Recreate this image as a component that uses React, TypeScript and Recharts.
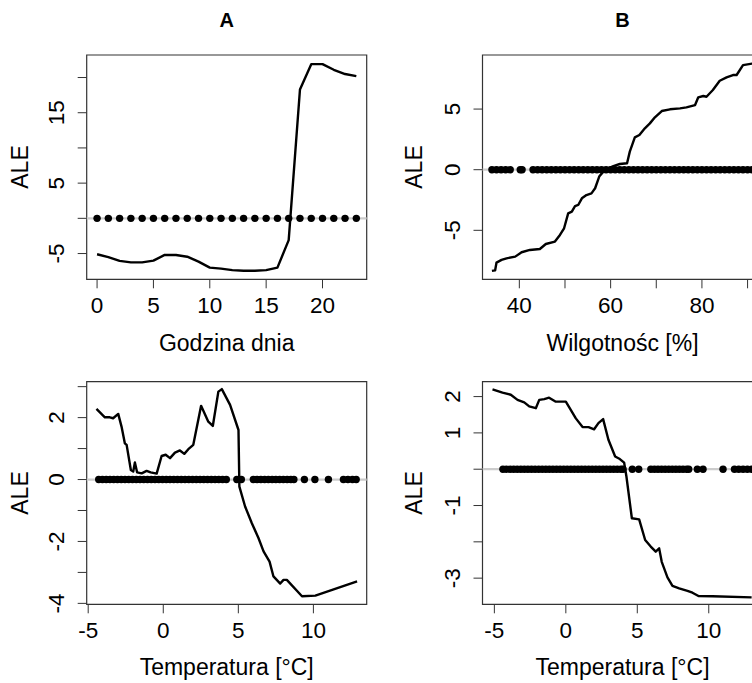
import React from "react";
import {
  ComposedChart,
  Line,
  Scatter,
  XAxis,
  YAxis,
  ReferenceLine,
  ReferenceArea,
} from "recharts";

const FONT = '"Liberation Sans", Arial, Helvetica, sans-serif';
const INK = "#333333";
const FS = 22.5;

// A – godzina dnia
const hourX = [0, 1, 2, 3, 4, 5, 6, 7, 8, 9, 10, 11, 12, 13, 14, 15, 16, 17, 18, 19, 20, 21, 22, 23];
const hourAle = [-5.1, -5.5, -6.05, -6.25, -6.25, -6.0, -5.2, -5.2, -5.45, -6.15, -7.0, -7.15, -7.35, -7.45, -7.45, -7.35, -7.0, -3.1, 18.3, 21.9, 21.9, 21.1, 20.5, 20.2];

// B – wilgotność
const humX = [34.0, 34.7, 35.0, 36.1, 37.2, 39.1, 40.5, 42.3, 44.5, 45.8, 47.8, 48.9, 49.8, 50.7, 51.5, 52.2, 52.9, 53.7, 54.7, 55.8, 56.6, 57.5, 58.4, 59.5, 60.6, 62.0, 63.6, 64.2, 65.3, 66.3, 67.5, 68.6, 69.7, 71.2, 73.0, 75.2, 76.6, 78.5, 79.2, 80.3, 81.0, 82.4, 83.9, 85.4, 86.8, 87.6, 89.0, 91.0];
const humAle = [-8.35, -8.3, -7.66, -7.44, -7.31, -7.17, -6.81, -6.62, -6.54, -6.13, -5.93, -5.38, -4.83, -3.6, -3.46, -3.0, -2.91, -2.36, -2.09, -1.95, -1.53, -0.57, -0.16, 0.12, 0.3, 0.47, 0.53, 1.49, 2.67, 2.86, 3.41, 3.82, 4.32, 4.84, 4.98, 5.06, 5.14, 5.33, 5.97, 6.08, 6.02, 6.57, 7.34, 7.62, 7.81, 7.81, 8.63, 8.75];
const humObs = [34, 35, 36, 37, 38, 40.2, 40.6, 43, 44, 45, 46, 47, 48, 49, 50, 51, 52, 53, 54, 55, 56, 57, 58, 59, 60, 61, 62, 63, 64, 65, 66, 67, 68, 69, 70, 71, 72, 73, 74, 75, 76, 77, 78, 79, 80, 81, 82, 83, 84, 85, 86, 87, 88, 89, 90, 91];

// C – temperatura (lewy panel)
const tempCX = [-4.45, -3.89, -3.56, -3.34, -3.0, -2.78, -2.56, -2.44, -2.16, -2.0, -1.89, -1.74, -1.44, -1.11, -0.84, -0.44, -0.11, 0.16, 0.45, 0.78, 1.11, 1.4, 1.67, 2.0, 2.52, 3.0, 3.3, 3.67, 3.9, 4.45, 5.01, 5.07, 5.45, 5.9, 6.34, 6.68, 7.08, 7.34, 7.79, 8.01, 8.23, 9.24, 10.13, 12.91];
const tempCAle = [2.28, 2.01, 2.01, 1.98, 2.12, 1.71, 1.17, 1.12, 0.31, 0.26, 0.55, 0.23, 0.2, 0.28, 0.23, 0.19, 0.76, 0.8, 0.69, 0.87, 0.94, 0.83, 0.98, 1.12, 2.38, 1.87, 1.73, 2.84, 2.92, 2.41, 1.6, -0.23, -0.87, -1.41, -1.89, -2.32, -2.65, -3.13, -3.36, -3.24, -3.24, -3.77, -3.75, -3.29];
const tempCObs = [-4.3, -4.05, -3.8, -3.55, -3.3, -3.05, -2.8, -2.55, -2.3, -2.05, -1.8, -1.55, -1.3, -1.05, -0.8, -0.55, -0.3, -0.05, 0.2, 0.45, 0.7, 0.95, 1.2, 1.45, 1.7, 1.95, 2.2, 2.45, 2.7, 2.95, 3.2, 3.45, 3.7, 3.95, 4.2, 4.9, 5.2, 6.0, 6.25, 6.5, 6.75, 7.0, 7.25, 7.5, 7.75, 8.0, 8.25, 8.5, 8.7, 9.4, 10.1, 11.0, 12.0, 12.3, 12.6, 12.85];

// D – temperatura (prawy panel)
const tempDX = [-5.13, -4.43, -3.85, -3.38, -2.91, -2.56, -2.1, -1.86, -1.51, -1.17, -0.7, 0.0, 0.23, 0.7, 1.17, 1.59, 1.98, 2.28, 2.61, 2.98, 3.45, 3.78, 4.08, 4.24, 4.62, 5.13, 5.55, 5.94, 6.29, 6.53, 6.71, 7.11, 7.46, 7.93, 8.51, 8.86, 9.28, 10.26, 13.0];
const tempDAle = [2.2, 2.11, 2.05, 1.91, 1.84, 1.73, 1.68, 1.91, 1.93, 1.97, 1.86, 1.86, 1.71, 1.4, 1.16, 1.16, 1.1, 1.27, 1.38, 0.81, 0.35, 0.28, 0.18, -0.2, -1.35, -1.38, -1.95, -2.13, -2.27, -2.18, -2.55, -2.98, -3.21, -3.28, -3.35, -3.4, -3.49, -3.5, -3.53];
const tempDObs = [-4.4, -4.15, -3.9, -3.65, -3.4, -3.15, -2.9, -2.65, -2.4, -2.15, -1.9, -1.65, -1.4, -1.15, -0.9, -0.65, -0.4, -0.15, 0.1, 0.35, 0.6, 0.85, 1.1, 1.35, 1.6, 1.85, 2.1, 2.35, 2.6, 2.85, 3.1, 3.35, 3.6, 3.85, 4.0, 4.65, 5.1, 5.95, 6.2, 6.45, 6.7, 6.95, 7.2, 7.45, 7.7, 7.95, 8.2, 8.45, 8.6, 9.2, 9.6, 11.0, 11.8, 12.1, 12.4, 12.7, 13.0];

const toPts = (xs: number[], ys: number[]) => xs.map((x, i) => ({ x, y: ys[i] }));
const toRug = (xs: number[]) => xs.map((x) => ({ x, y: 0 }));

const XTick = (props: any) => {
  const { x, y, payload, shown } = props;
  if (!shown.includes(payload.value)) return <g />;
  return (
    <text x={x} y={y + 24.8} textAnchor="middle" fontSize={FS} fontFamily={FONT} fill="#000">
      {String(payload.value)}
    </text>
  );
};

const YTick = (props: any) => {
  const { x, y, payload, shown } = props;
  if (!shown.includes(payload.value)) return <g />;
  const bx = x - 13.8;
  return (
    <text x={bx} y={y} transform={`rotate(-90 ${bx} ${y})`} textAnchor="middle" fontSize={FS} fontFamily={FONT} fill="#000">
      {String(payload.value)}
    </text>
  );
};

const RugDot = (p: any) => <circle cx={p.cx} cy={p.cy} r={3.7} fill="#000" />;

type PanelProps = {
  left: number;
  top: number;
  width: number;
  height: number;
  margin: { top: number; right: number; bottom: number; left: number };
  xAxisH: number;
  line: { x: number; y: number }[];
  rug: { x: number; y: number }[];
  xDomain: [number, number];
  yDomain: [number, number];
  xTicks: number[];
  xLabels: number[];
  yTicks: number[];
  yLabels: number[];
};

function Panel(p: PanelProps) {
  return (
    <div style={{ position: "absolute", left: p.left, top: p.top }}>
      <ComposedChart width={p.width} height={p.height} margin={p.margin}>
        <XAxis
          type="number"
          dataKey="x"
          domain={p.xDomain}
          ticks={p.xTicks}
          interval={0}
          allowDataOverflow
          height={p.xAxisH}
          tickSize={9}
          tickMargin={0}
          axisLine={false}
          tickLine={{ stroke: INK }}
          tick={(t: any) => <XTick {...t} shown={p.xLabels} />}
        />
        <YAxis
          type="number"
          dataKey="y"
          domain={p.yDomain}
          ticks={p.yTicks}
          interval={0}
          allowDataOverflow
          width={70}
          tickSize={9}
          tickMargin={0}
          axisLine={false}
          tickLine={{ stroke: INK }}
          tick={(t: any) => <YTick {...t} shown={p.yLabels} />}
        />
        <ReferenceLine y={0} stroke="#cccccc" strokeWidth={2.2} />
        <Scatter data={p.rug} shape={RugDot} isAnimationActive={false} />
        <Line
          data={p.line}
          dataKey="y"
          type="linear"
          dot={false}
          activeDot={false}
          stroke="#000"
          strokeWidth={2.4}
          strokeLinejoin="round"
          isAnimationActive={false}
        />
        <ReferenceArea
          x1={p.xDomain[0]}
          x2={p.xDomain[1]}
          y1={p.yDomain[0]}
          y2={p.yDomain[1]}
          fill="none"
          fillOpacity={0}
          stroke={INK}
          strokeWidth={1.2}
        />
      </ComposedChart>
    </div>
  );
}

const txt = (cx: number, cy: number, rotate = false, bold = false, size = 23): React.CSSProperties => ({
  position: "absolute",
  left: cx,
  top: cy,
  transform: `translate(-50%, -50%)${rotate ? " rotate(-90deg)" : ""}`,
  fontSize: size,
  fontWeight: bold ? "bold" : "normal",
  lineHeight: 1,
  whiteSpace: "nowrap",
  color: "#000",
});

export default function App() {
  const topMargin = { top: 55, right: 23.3, bottom: 2.7, left: 16.7 };
  const botMargin = { top: 19.7, right: 23.3, bottom: 3.7, left: 16.7 };
  const topMarginR = { top: 55, right: 37.5, bottom: 2.7, left: 22.5 };
  const botMarginR = { top: 19.7, right: 37.5, bottom: 3.7, left: 22.5 };
  return (
    <div
      style={{
        position: "absolute",
        left: 0,
        top: 0,
        width: 752,
        height: 683,
        overflow: "hidden",
        background: "#fff",
        fontFamily: FONT,
      }}
    >
      <Panel
        left={0}
        top={0}
        width={390}
        height={362}
        margin={topMargin}
        xAxisH={80}
        line={toPts(hourX, hourAle)}
        rug={toRug(hourX)}
        xDomain={[-0.92, 23.92]}
        yDomain={[-8.66, 23.2]}
        xTicks={[0, 5, 10, 15, 20]}
        xLabels={[0, 5, 10, 15, 20]}
        yTicks={[-5, 0, 5, 10, 15, 20]}
        yLabels={[-5, 5, 15]}
      />
      <Panel
        left={390}
        top={0}
        width={410}
        height={362}
        margin={topMarginR}
        xAxisH={80}
        line={toPts(humX, humAle)}
        rug={toRug(humObs)}
        xDomain={[31.93, 93.27]}
        yDomain={[-9.04, 9.46]}
        xTicks={[40, 50, 60, 70, 80, 90]}
        xLabels={[40, 60, 80]}
        yTicks={[-5, 0, 5]}
        yLabels={[-5, 0, 5]}
      />
      <Panel
        left={0}
        top={362}
        width={390}
        height={321}
        margin={botMargin}
        xAxisH={75}
        line={toPts(tempCX, tempCAle)}
        rug={toRug(tempCObs)}
        xDomain={[-5.1, 13.55]}
        yDomain={[-4.03, 3.16]}
        xTicks={[-5, 0, 5, 10]}
        xLabels={[-5, 0, 5, 10]}
        yTicks={[-4, -3, -2, -1, 0, 1, 2, 3]}
        yLabels={[-4, -2, 0, 2]}
      />
      <Panel
        left={390}
        top={362}
        width={410}
        height={321}
        margin={botMarginR}
        xAxisH={75}
        line={toPts(tempDX, tempDAle)}
        rug={toRug(tempDObs)}
        xDomain={[-5.83, 13.76]}
        yDomain={[-3.72, 2.41]}
        xTicks={[-5, 0, 5, 10]}
        xLabels={[-5, 0, 5, 10]}
        yTicks={[-3, -2, -1, 0, 1, 2]}
        yLabels={[-3, -1, 1, 2]}
      />

      <div style={txt(226.7, 19.5, false, true, 20)}>A</div>
      <div style={txt(622.5, 19.5, false, true, 20)}>B</div>

      <div style={txt(20, 167, true)}>ALE</div>
      <div style={txt(414, 167, true)}>ALE</div>
      <div style={txt(20, 493, true)}>ALE</div>
      <div style={txt(414, 493, true)}>ALE</div>

      <div style={txt(226.7, 342.5)}>Godzina dnia</div>
      <div style={txt(622.5, 342.5)}>Wilgotnośc [%]</div>
      <div style={txt(226.7, 666.5)}>Temperatura [°C]</div>
      <div style={txt(622.5, 666.5)}>Temperatura [°C]</div>
    </div>
  );
}
